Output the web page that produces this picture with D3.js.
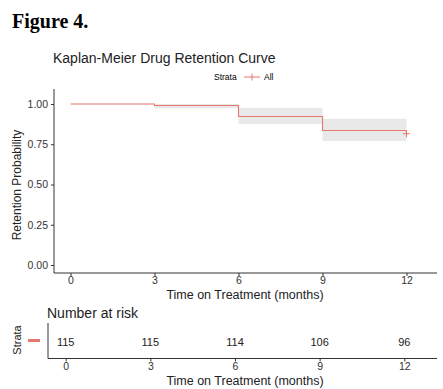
<!DOCTYPE html>
<html>
<head>
<meta charset="utf-8">
<script src="https://cdn.jsdelivr.net/npm/d3@7"></script>
<style>
  body { margin: 0; background: #fff; }
  svg text { font-family: "Liberation Sans", Arial, sans-serif; }
</style>
</head>
<body>
<div id="chart"></div>
<script>
// --- Data ---
var times = [0, 3, 6, 9, 12];
var surv = [1.00, 0.991, 0.922, 0.835, 0.815];
var ciUpper = [1.00, 1.00, 0.977, 0.909, 0.909];
var ciLower = [1.00, 0.974, 0.876, 0.770, 0.770];
var censorTimes = [12];
var censorSurv = [0.815];
var atRisk = [115, 115, 114, 106, 96];
var yTicks = [0, 0.25, 0.5, 0.75, 1];

var W = 443, H = 389;
var red = "#E8776D";
var axisCol = "#333";
var tickText = "#333";

var svg = d3.select("#chart").append("svg")
  .attr("width", W)
  .attr("height", H);

// --- Headings ---
svg.append("text")
  .attr("x", 12).attr("y", 28)
  .style("font-family", "'Liberation Serif', 'Times New Roman', serif")
  .style("font-weight", "bold")
  .style("font-size", "20px")
  .text("Figure 4.");

svg.append("text")
  .attr("x", 53).attr("y", 63)
  .style("font-size", "14px")
  .attr("fill", "#222")
  .text("Kaplan-Meier Drug Retention Curve");

// legend
var lg = svg.append("g").attr("transform", "translate(0,77)");
lg.append("text").attr("x", 214).attr("y", 3).style("font-size", "8.5px").text("Strata");
lg.append("line").attr("x1", 244).attr("x2", 260).attr("y1", 0).attr("y2", 0)
  .attr("stroke", red).attr("stroke-width", 1);
lg.append("line").attr("x1", 252).attr("x2", 252).attr("y1", -3.5).attr("y2", 3.5)
  .attr("stroke", red).attr("stroke-width", 1);
lg.append("text").attr("x", 264).attr("y", 3).style("font-size", "8.5px").text("All");

// --- Main plot scales ---
var scX = d3.scaleLinear().domain([0, 12]).range([70.5, 406.5]);
var scY = d3.scaleLinear().domain([0, 1]).range([265, 104]);

var pts = times.map((t, i) => ({t: t, s: surv[i], lo: ciLower[i], hi: ciUpper[i]}));

svg.append("path")
  .attr("fill", "#e9e9e9")
  .attr("d", d3.area()
    .curve(d3.curveStepAfter)
    .x(d => scX(d.t))
    .y0(d => scY(d.lo))
    .y1(d => scY(d.hi))(pts));

svg.append("path")
  .attr("fill", "none")
  .attr("stroke", red)
  .attr("stroke-width", 1.1)
  .attr("d", d3.line()
    .curve(d3.curveStepAfter)
    .x(d => scX(d.t))
    .y(d => scY(d.s))(pts));

censorTimes.forEach(function(t, i) {
  var cx = scX(t), cy = scY(censorSurv[i]);
  svg.append("path")
    .attr("stroke", red).attr("stroke-width", 1.1)
    .attr("d", `M${cx - 3.5},${cy}H${cx + 3.5}M${cx},${cy - 3.5}V${cy + 3.5}`);
});

// axes
var styleAxis = function(g) {
  g.selectAll(".domain").attr("stroke", axisCol);
  g.selectAll(".tick line").attr("stroke", axisCol);
  g.selectAll(".tick text").attr("fill", tickText)
    .style("font-family", "'Liberation Sans', Arial, sans-serif")
    .style("font-size", "10.5px");
};

svg.append("g")
  .attr("transform", "translate(54,0)")
  .call(d3.axisLeft(scY).tickValues(yTicks).tickFormat(d3.format(".2f"))
    .tickSizeOuter(0).tickSize(3).tickPadding(3))
  .call(g => g.select(".domain").attr("d", "M0,273V89"))
  .call(styleAxis);

svg.append("g")
  .attr("transform", "translate(0,273)")
  .call(d3.axisBottom(scX).tickValues(times).tickSizeOuter(0).tickSize(3).tickPadding(1))
  .call(g => g.select(".domain").attr("d", "M54,0H437"))
  .call(styleAxis);

svg.append("text")
  .attr("transform", "translate(21,185) rotate(-90)")
  .attr("text-anchor", "middle")
  .style("font-size", "12px")
  .attr("fill", "#222")
  .text("Retention Probability");

svg.append("text")
  .attr("x", 245).attr("y", 299)
  .attr("text-anchor", "middle")
  .style("font-size", "12.5px")
  .attr("fill", "#222")
  .text("Time on Treatment (months)");

// --- Risk table ---
var rkX = d3.scaleLinear().domain([0, 12]).range([65.7, 404.3]);

svg.append("text")
  .attr("x", 47).attr("y", 318)
  .style("font-size", "14px")
  .attr("fill", "#222")
  .text("Number at risk");

svg.append("g").selectAll("text")
  .data(times)
  .enter()
  .append("text")
  .attr("x", d => rkX(d))
  .attr("y", 345.5)
  .attr("text-anchor", "middle")
  .style("font-size", "11px")
  .attr("fill", "#222")
  .text((d, i) => atRisk[i]);

svg.append("line")
  .attr("x1", 48).attr("x2", 48).attr("y1", 323).attr("y2", 358.5)
  .attr("stroke", axisCol);

svg.append("g")
  .attr("transform", "translate(0,358.5)")
  .call(d3.axisBottom(rkX).tickValues(times).tickSizeOuter(0).tickSize(3).tickPadding(1))
  .call(g => g.select(".domain").attr("d", "M48,0H437"))
  .call(styleAxis);

svg.append("line")
  .attr("x1", 28).attr("x2", 40).attr("y1", 340.5).attr("y2", 340.5)
  .attr("stroke", red).attr("stroke-width", 3);

svg.append("text")
  .attr("transform", "translate(21,340) rotate(-90)")
  .attr("text-anchor", "middle")
  .style("font-size", "11px")
  .attr("fill", "#222")
  .text("Strata");

svg.append("text")
  .attr("x", 245).attr("y", 385)
  .attr("text-anchor", "middle")
  .style("font-size", "12.5px")
  .attr("fill", "#222")
  .text("Time on Treatment (months)");
</script>
</body>
</html>
